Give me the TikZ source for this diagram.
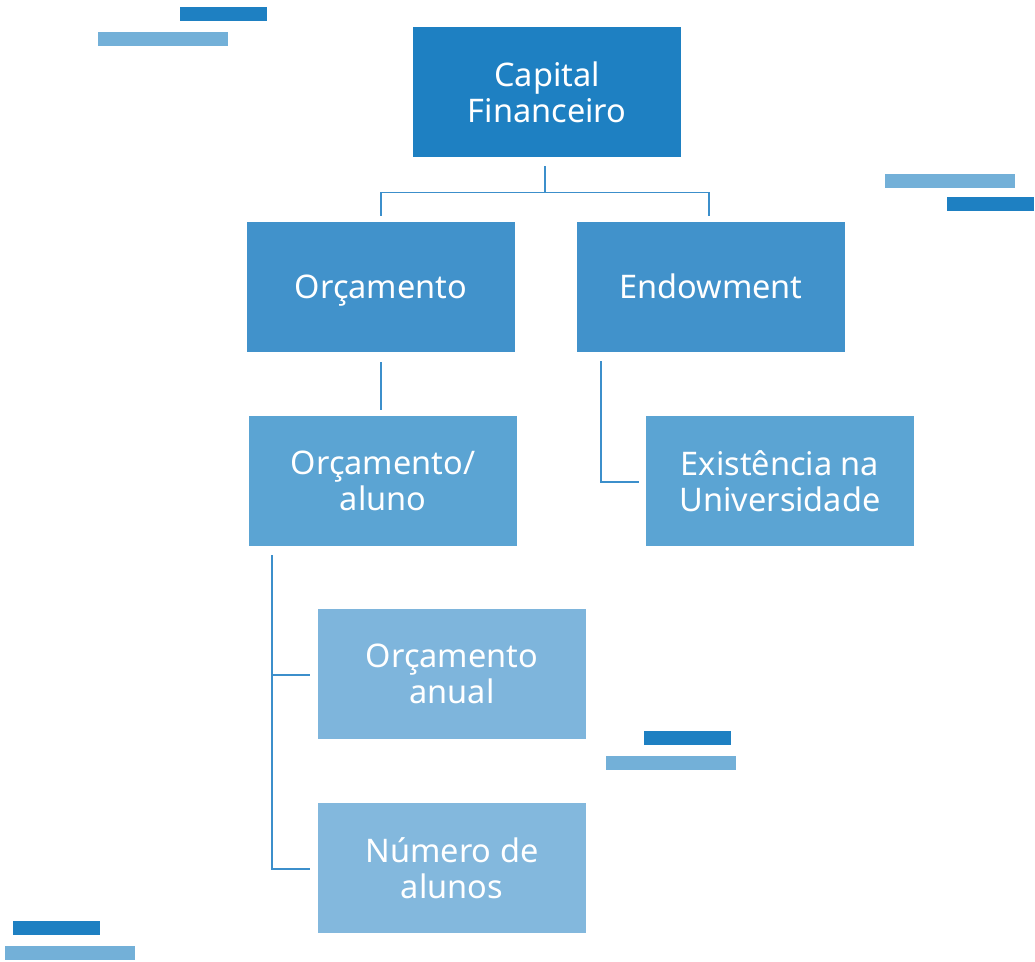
\documentclass[tikz,border=0pt]{standalone}
\usepackage{fontspec}
\setmainfont{Noto Sans}
\usetikzlibrary{positioning}
\definecolor{bluetop}{HTML}{1E80C2}
\definecolor{bluetwo}{HTML}{4192CB}
\definecolor{bluethree}{HTML}{5BA4D3}
\definecolor{bluefour}{HTML}{7EB5DC}
\definecolor{bluefive}{HTML}{83B8DD}
\definecolor{barlight}{HTML}{73B0D8}
\definecolor{linecol}{HTML}{3C8FCB}

\begin{document}
\begin{tikzpicture}[x=1pt, y=-1pt,
    box/.style={minimum width=268pt, minimum height=130pt, inner sep=0pt, text=white,
        align=center, font=\fontsize{32.5}{36}\selectfont},
    oneline/.style={text height=23pt, text depth=0pt},
    conn/.style={draw=linecol, line width=1.3pt},
    bardark/.style={fill=bluetop},
    barlite/.style={fill=barlight}]
    \useasboundingbox (0,0) rectangle (1035,961);
    % boxes
    \node[box, fill=bluetop] (cap) at (547,92) {Capital\\Financeiro};
    \node[box, oneline, fill=bluetwo] (orc) at (381,287) {Orçamento};
    \node[box, oneline, fill=bluetwo] (endo) at (711,287) {Endowment};
    \node[box, fill=bluethree] (orcal) at (383,481) {Orçamento/\\aluno};
    \node[box, fill=bluethree] (exist) at (780,481) {Existência na\\Universidade};
    \node[box, fill=bluefour] (anual) at (452,674) {Orçamento\\anual};
    \node[box, fill=bluefive] (numero) at (452,868) {Número de\\alunos};
    % connectors
    \draw[conn] ([xshift=-2pt,yshift=-9pt]cap.south) -- ++(0,26) -| ([yshift=6pt]orc.north);
    \draw[conn] ([xshift=-2pt,yshift=-9pt]cap.south) ++(0,26) -| ([xshift=-2pt,yshift=6pt]endo.north);
    \draw[conn] ([yshift=-10pt]orc.south) -- ([yshift=6pt]orc.south |- orcal.north);
    \draw[conn] ([xshift=-110pt,yshift=-9pt]endo.south) |- ([xshift=-7pt,yshift=-1pt]exist.west);
    \draw[conn] ([xshift=-111pt,yshift=-9pt]orcal.south) |- ([xshift=-8pt,yshift=-1pt]anual.west);
    \draw[conn] ([xshift=-111pt,yshift=-9pt]orcal.south) |- ([xshift=-8pt,yshift=-1pt]numero.west);
    % bars
    \fill[bardark] (180,7) rectangle (267,21);
    \fill[barlite] (98,32) rectangle (228,46);
    \fill[barlite] (885,174) rectangle (1015,188);
    \fill[bardark] (947,197) rectangle (1034,211);
    \fill[bardark] (644,731) rectangle (731,745);
    \fill[barlite] (606,756) rectangle (736,770);
    \fill[bardark] (13,921) rectangle (100,935);
    \fill[barlite] (5,946) rectangle (135,960);
\end{tikzpicture}
\end{document}
